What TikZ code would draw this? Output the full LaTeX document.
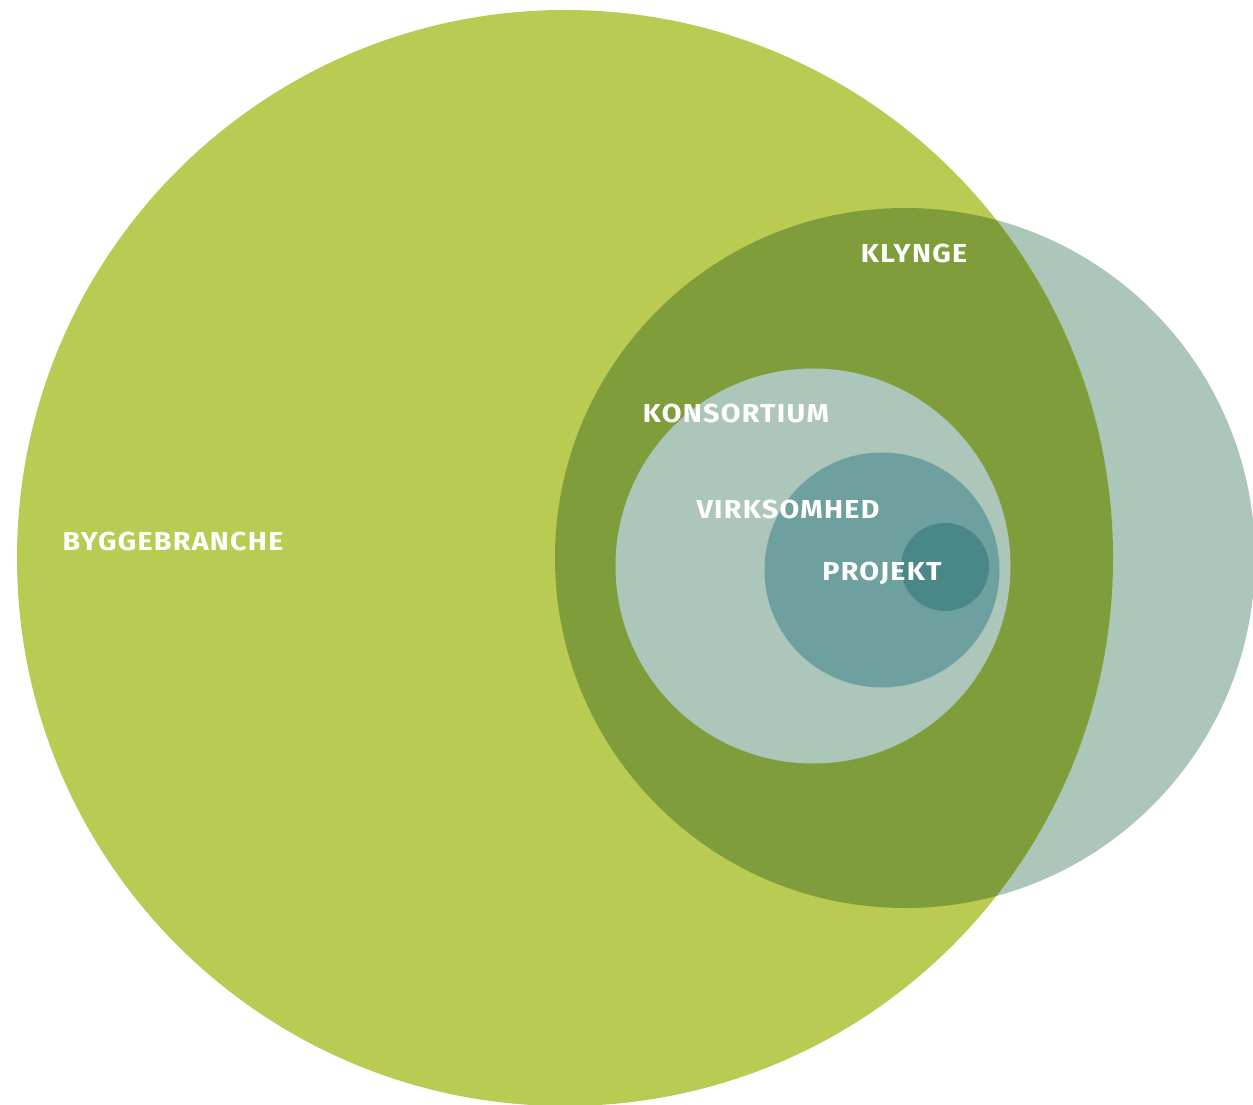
\documentclass[tikz,border=0pt]{standalone}
\usepackage{fontspec}
\setmainfont{Fira Sans}
\newfontfamily\lblfont[FakeStretch=1.1,LetterSpace=5]{Fira Sans}
\definecolor{bggreen}{HTML}{B9CB52}
\definecolor{dkgreen}{HTML}{7F9D3A}
\definecolor{ltblue}{HTML}{ADC6BA}
\definecolor{mdblue}{HTML}{6DA09E}
\definecolor{dkblue}{HTML}{4A8789}
\begin{document}
\begin{tikzpicture}[x=1pt,y=-1pt,
  lbl/.style={text=white,font=\lblfont\fontsize{26}{30}\selectfont\bfseries,inner sep=0pt}]
\useasboundingbox (0,0) rectangle (1253,1105);
\fill[ltblue] (905,558) circle (350);
\fill[bggreen] (565,558) circle (548);
\begin{scope}
\clip (565,558) circle (548);
\fill[dkgreen] (905,558) circle (350);
\end{scope}
\fill[ltblue] (813,566) circle (197.5);
\fill[mdblue] (882,570) circle (117.5);
\fill[dkblue] (945,567) circle (44);
\node[lbl] (bygge) at (173,541) {BYGGEBRANCHE};
\node[lbl] (klynge) at (914,253) {KLYNGE};
\node[lbl] (kons) at (736,413) {KONSORTIUM};
\node[lbl] (virk) at (788,509) {VIRKSOMHED};
\node[lbl] (proj) at (882,573) {PROJEKT};
\end{tikzpicture}
\end{document}
